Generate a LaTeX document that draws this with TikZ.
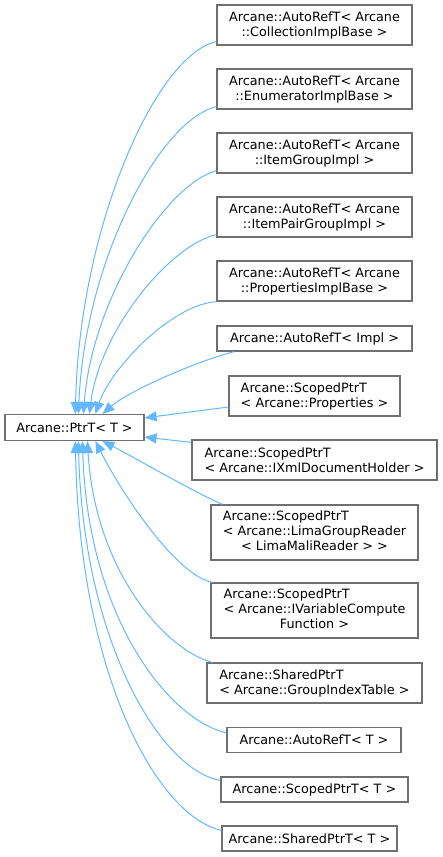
\documentclass[tikz,border=0pt]{standalone}
\usepackage{fontspec}
\setmainfont{DejaVu Sans}
\usetikzlibrary{arrows.meta}
\definecolor{edgeblue}{HTML}{63B8FF}
\definecolor{boxgray}{HTML}{707070}
\tikzset{
  cls/.style={draw=boxgray, fill=white, line width=1.2pt, inner sep=0pt,
    font=\fontsize{12.8}{15}\selectfont, align=center},
  inh/.style={draw=edgeblue, line width=1pt,
    {Triangle[length=12pt,width=10pt,fill=edgeblue]}-},
}
\begin{document}
\begin{tikzpicture}[x=1pt,y=-1pt]
\useasboundingbox (0,0) rectangle (443,857);

\node[cls, minimum width=139pt, minimum height=26pt] (p) at (74.5,427.5) {Arcane::PtrT< T >};

\node[cls, minimum width=195pt, minimum height=40pt] (b1) at (314.5,25) {Arcane::AutoRefT< Arcane\\::CollectionImplBase >};
\node[cls, minimum width=195pt, minimum height=40pt] (b2) at (314.5,89) {Arcane::AutoRefT< Arcane\\::EnumeratorImplBase >};
\node[cls, minimum width=195pt, minimum height=40pt] (b3) at (314.5,153) {Arcane::AutoRefT< Arcane\\::ItemGroupImpl >};
\node[cls, minimum width=195pt, minimum height=40pt] (b4) at (314.5,217) {Arcane::AutoRefT< Arcane\\::ItemPairGroupImpl >};
\node[cls, minimum width=195pt, minimum height=40pt] (b5) at (314.5,281) {Arcane::AutoRefT< Arcane\\::PropertiesImplBase >};
\node[cls, minimum width=195pt, minimum height=25pt] (b6) at (314.5,338.5) {Arcane::AutoRefT< Impl >};
\node[cls, minimum width=171pt, minimum height=40pt, align=left] (b7) at (314.5,396) {Arcane::ScopedPtrT\\< Arcane::Properties >};
\node[cls, minimum width=245pt, minimum height=40pt, align=left] (b8) at (314.5,460) {Arcane::ScopedPtrT\\< Arcane::IXmlDocumentHolder >};
\node[cls, minimum width=207pt, minimum height=55pt] (b9) at (314.5,532.5)
  {\begin{tabular}{@{}l@{}}Arcane::ScopedPtrT\\< Arcane::LimaGroupReader\\\multicolumn{1}{@{}c@{}}{< LimaMaliReader > >}\end{tabular}};
\node[cls, minimum width=207pt, minimum height=55pt] (b10) at (314.5,610.5)
  {\begin{tabular}{@{}l@{}}Arcane::ScopedPtrT\\< Arcane::IVariableCompute\\\multicolumn{1}{@{}c@{}}{Function >}\end{tabular}};
\node[cls, minimum width=215pt, minimum height=40pt, align=left] (b11) at (314.5,683) {Arcane::SharedPtrT\\< Arcane::GroupIndexTable >};
\node[cls, minimum width=174pt, minimum height=25pt] (b12) at (314,740) {Arcane::AutoRefT< T >};
\node[cls, minimum width=187pt, minimum height=25pt] (b13) at (314.5,789.5) {Arcane::ScopedPtrT< T >};
\node[cls, minimum width=175pt, minimum height=25pt] (b14) at (309.5,838.5) {Arcane::SharedPtrT< T >};

% edges going up
\draw[inh] ([xshift=71pt]p.north west) .. controls (79,230) and (155,55) .. ([yshift=4pt]b1.south west);
\draw[inh] ([xshift=74pt]p.north west) .. controls (85,260) and (160,120) .. ([yshift=3pt]b2.south west);
\draw[inh] ([xshift=79pt]p.north west) .. controls (92,300) and (165,185) .. ([yshift=3pt]b3.south west);
\draw[inh] ([xshift=85pt]p.north west) .. controls (100,330) and (170,245) .. ([yshift=3pt]b4.south west);
\draw[inh] ([xshift=91pt]p.north west) .. controls (110,370) and (170,305) .. (b5.south west);
\draw[inh] ([xshift=98pt]p.north west) .. controls (130,390) and (200,360) .. ([xshift=18pt]b6.south west);
% side edges
\draw[inh] ([yshift=-4pt]p.north east) -- ([yshift=-11pt]b7.west);
\draw[inh] ([yshift=4pt]p.south east) -- ([yshift=-3pt]b8.north west);
% edges going down
\draw[inh] ([xshift=98pt]p.south west) .. controls (130,455) and (190,490) .. ([xshift=12pt]b9.north west);
\draw[inh] ([xshift=91pt]p.south west) .. controls (120,490) and (175,575) .. ([xshift=2pt]b10.north west);
\draw[inh] ([xshift=83pt]p.south west) .. controls (95,570) and (165,650) .. ([xshift=6pt]b11.north west);
\draw[inh] ([xshift=78pt]p.south west) .. controls (88,620) and (170,720) .. ([yshift=-6pt]b12.north west);
\draw[inh] ([xshift=74pt]p.south west) .. controls (83,640) and (160,770) .. ([yshift=-4pt]b13.north west);
\draw[inh] ([xshift=71pt]p.south west) .. controls (79,670) and (155,815) .. ([yshift=-5pt]b14.north west);
\end{tikzpicture}
\end{document}
